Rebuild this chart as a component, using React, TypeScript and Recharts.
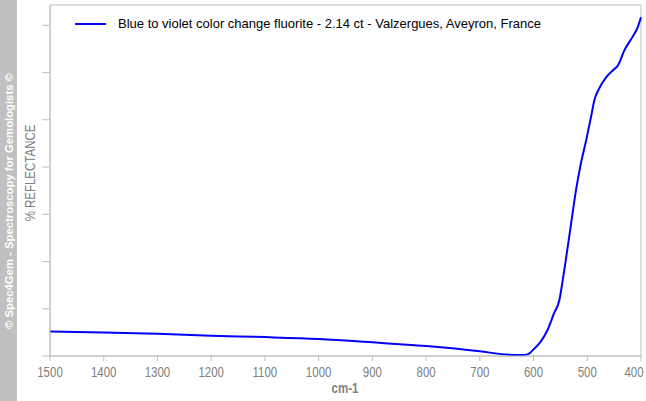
import { LineChart, Line, XAxis, YAxis, ReferenceArea } from "recharts";

const wavelengths = [1500, 1400, 1300, 1200, 1100, 1000, 900, 800, 700, 650, 620, 610, 600, 587, 574, 562, 552, 546, 540, 530, 521, 512, 502, 493, 487, 478, 465, 450, 443, 431, 416, 406, 400];
const reflectance = [0.52, 0.5, 0.47, 0.43, 0.4, 0.36, 0.29, 0.21, 0.1, 0.03, 0.02, 0.04, 0.14, 0.3, 0.55, 0.9, 1.18, 1.58, 2.03, 2.81, 3.51, 4.07, 4.57, 5.06, 5.41, 5.66, 5.9, 6.07, 6.15, 6.47, 6.75, 6.96, 7.17];
const xTicks = [1500, 1400, 1300, 1200, 1100, 1000, 900, 800, 700, 600, 500, 400];
const yTicks = [0, 1, 2, 3, 4, 5, 6, 7];
const seriesName = "Blue to violet color change fluorite - 2.14 ct - Valzergues, Aveyron, France";

const data = wavelengths.map((w, i) => ({ w, r: reflectance[i] }));

const AXIS = "#bfbfbf";
const FONT = "'Liberation Sans', Arial, sans-serif";
// narrow look like Arial Narrow, faked with a horizontal squeeze
const SQUEEZE = 0.82;

function XTick(props: any) {
  const { x, y, payload } = props;
  return (
    <text
      transform={`translate(${x},${y + 10}) scale(${SQUEEZE},1)`}
      textAnchor="middle"
      fill="#808080"
      fontFamily={FONT}
      fontSize={14}
    >
      {payload.value}
    </text>
  );
}

export default function App() {
  return (
    <div style={{ position: "absolute", left: 0, top: 0, width: 646, height: 401, background: "#fff" }}>
      {/* copyright strip */}
      <div style={{ position: "absolute", left: 0, top: 0, width: 17, height: 401, background: "#c0c0c0" }} />
      <div
        style={{
          position: "absolute",
          left: 8.5,
          top: 201,
          transform: "translate(-50%, -50%) rotate(-90deg)",
          whiteSpace: "nowrap",
          color: "#fff",
          fontFamily: FONT,
          fontWeight: "bold",
          fontSize: 11.3,
        }}
      >
        © Spec4Gem - Spectroscopy for Gemologists ©
      </div>
      <div
        style={{
          position: "absolute",
          left: 30,
          top: 173,
          transform: `translate(-50%, -50%) rotate(-90deg) scaleX(${SQUEEZE})`,
          whiteSpace: "nowrap",
          color: "#808080",
          fontFamily: FONT,
          fontSize: 14,
        }}
      >
        % REFLECTANCE
      </div>
      <LineChart width={646} height={401} data={data} margin={{ top: 5, right: 5, bottom: 0, left: 42 }} style={{ position: "absolute", left: 0, top: 0 }}>
        <ReferenceArea x1={400} x2={1500} y1={0} y2={7.43} fill="none" stroke={AXIS} strokeWidth={1} />
        <XAxis
          dataKey="w"
          type="number"
          domain={[400, 1500]}
          reversed
          ticks={xTicks}
          height={45}
          stroke={AXIS}
          tickSize={5}
          tickMargin={6}
          tick={<XTick />}
          label={{
            content: () => (
              <text
                transform={`translate(345,393) scale(${SQUEEZE},1)`}
                textAnchor="middle"
                fill="#808080"
                fontFamily={FONT}
                fontSize={14}
                fontWeight="bold"
              >
                cm-1
              </text>
            ),
          }}
        />
        <YAxis
          type="number"
          domain={[0, 7.43]}
          ticks={yTicks}
          width={8}
          stroke={AXIS}
          tickSize={8}
          tick={() => <g />}
          allowDataOverflow
        />
        <Line type="monotone" dataKey="r" name={seriesName} stroke="#0000ff" strokeWidth={2} dot={false} isAnimationActive={false} />
      </LineChart>
      {/* legend */}
      <div style={{ position: "absolute", left: 75, top: 16, display: "flex", alignItems: "center", fontFamily: FONT, fontSize: 13, color: "#000", whiteSpace: "nowrap" }}>
        <svg width={31} height={4} style={{ marginRight: 12 }}>
          <line x1={0} y1={2} x2={31} y2={2} stroke="#0000ff" strokeWidth={2} />
        </svg>
        <span>{seriesName}</span>
      </div>
    </div>
  );
}
